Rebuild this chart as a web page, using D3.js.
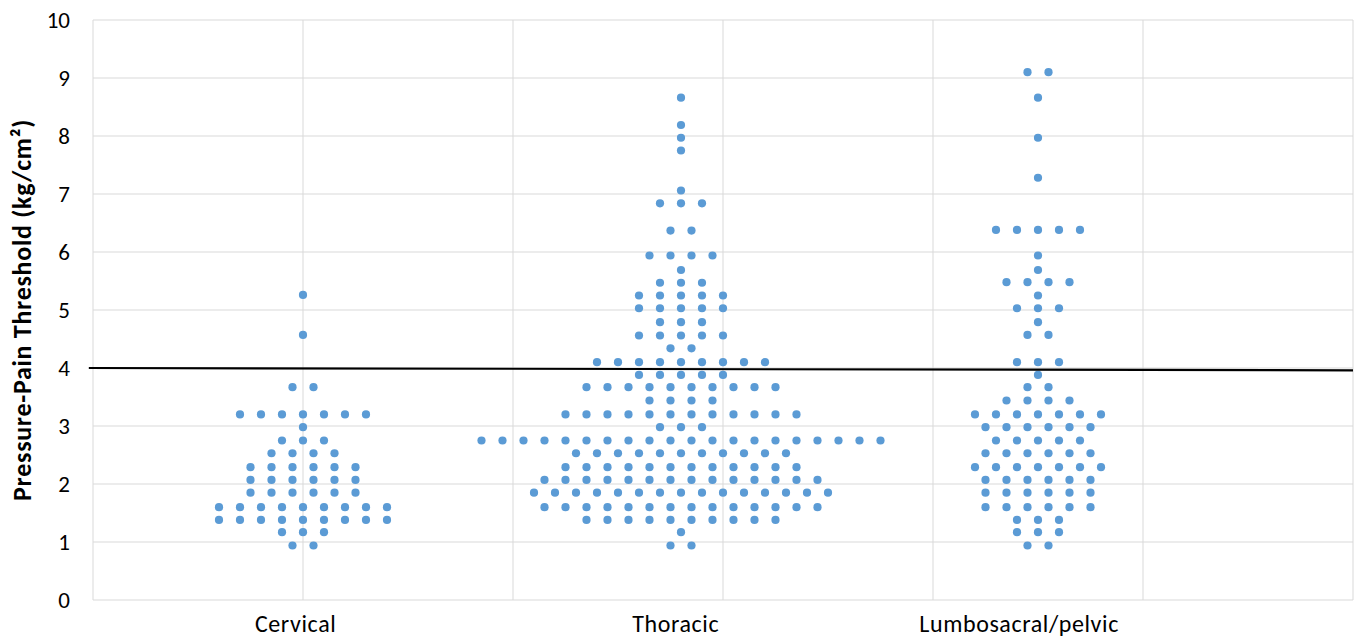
<!DOCTYPE html>
<html>
<head>
<meta charset="utf-8">
<script src="https://cdn.jsdelivr.net/npm/d3@7"></script>
<style>
  body { margin: 0; background: #fff; }
  text { font-family: Calibri, Carlito, Lato, sans-serif; fill: #000; }
</style>
</head>
<body>
<div id="chart"></div>
<script>
// categories and their centre positions on the hidden x value axis
const categories = ["Cervical", "Thoracic", "Lumbosacral/pelvic"];
const categoryCenters = [1, 2.8, 4.5];

// each row: [pressure-pain threshold, number of subjects at that value]
const cervicalRows = [
  [5.26, 1], [4.57, 1], [3.67, 2], [3.20, 7], [2.98, 1], [2.75, 3], [2.53, 4],
  [2.29, 6], [2.07, 6], [1.85, 6], [1.60, 9], [1.38, 9], [1.17, 3], [0.94, 2]
];
const thoracicRows = [
  [8.66, 1], [8.19, 1], [7.97, 1], [7.75, 1], [7.06, 1], [6.84, 3], [6.37, 2],
  [5.94, 4], [5.69, 1], [5.47, 3], [5.25, 5], [5.03, 5], [4.79, 3], [4.56, 5],
  [4.34, 2], [4.10, 9], [3.88, 5], [3.67, 10], [3.44, 4], [3.20, 12], [2.98, 3],
  [2.75, 20], [2.53, 11], [2.29, 12], [2.07, 14], [1.85, 15], [1.60, 14],
  [1.38, 10], [1.17, 1], [0.94, 2]
];
const lumbosacralRows = [
  [9.10, 2], [8.66, 1], [7.97, 1], [7.28, 1], [6.38, 5], [5.94, 1], [5.69, 1],
  [5.48, 4], [5.25, 1], [5.03, 3], [4.79, 1], [4.57, 2], [4.10, 3], [3.88, 1],
  [3.67, 2], [3.44, 4], [3.20, 7], [2.98, 6], [2.75, 5], [2.53, 6], [2.29, 7],
  [2.07, 6], [1.85, 6], [1.60, 6], [1.38, 3], [1.17, 3], [0.94, 2]
];
const seriesRows = [cervicalRows, thoracicRows, lumbosacralRows];

const yTicks = [0, 1, 2, 3, 4, 5, 6, 7, 8, 9, 10];
const xGrid = [0, 1, 2, 3, 4, 5, 6];
// threshold line (start, end) on y
const thresholdLine = [[-0.02, 4.0], [6, 3.96]];

const width = 1360, height = 639;
const margin = { top: 20, right: 7, bottom: 39, left: 93 };
const dotStep = 0.1;

const svg = d3.select("#chart").append("svg")
  .attr("width", width)
  .attr("height", height);

const x = d3.scaleLinear().domain([0, 6]).range([margin.left, width - margin.right]);
const y = d3.scaleLinear().domain([0, 10]).range([height - margin.bottom, margin.top]);

// gridlines
svg.append("g")
  .selectAll("line.h")
  .data(yTicks)
  .enter().append("line")
  .attr("x1", x(0)).attr("x2", x(6))
  .attr("y1", d => y(d)).attr("y2", d => y(d))
  .attr("stroke", "#d9d9d9").attr("stroke-width", 1);

svg.append("g")
  .selectAll("line.v")
  .data(xGrid)
  .enter().append("line")
  .attr("x1", d => x(d)).attr("x2", d => x(d))
  .attr("y1", y(0)).attr("y2", y(10))
  .attr("stroke", "#d9d9d9").attr("stroke-width", 1);

// y axis labels
const yAxis = d3.axisLeft(y).tickValues(yTicks).tickSize(0).tickPadding(23);
const yG = svg.append("g")
  .attr("transform", "translate(" + x(0) + ",0)")
  .call(yAxis);
yG.select(".domain").remove();
yG.selectAll("text")
  .style("font-family", "Calibri, Carlito, Lato, sans-serif")
  .style("font-size", "23px")
  .attr("fill", "#000");

svg.append("text")
  .attr("transform", "translate(31," + ((y(0) + y(10)) / 2) + ") rotate(-90)")
  .attr("text-anchor", "middle")
  .style("font-size", "26px")
  .style("font-weight", "bold")
  .style("letter-spacing", "0.7px")
  .text("Pressure-Pain Threshold (kg/cm²)");

// category labels (nudged like the original text boxes)
const labelNudge = [-0.035, -0.025, -0.09];
svg.append("g")
  .selectAll("text")
  .data(categories)
  .enter().append("text")
  .attr("x", (d, i) => x(categoryCenters[i] + labelNudge[i]))
  .attr("y", 632)
  .attr("text-anchor", "middle")
  .style("font-size", "24px")
  .style("letter-spacing", "0.6px")
  .text(d => d);

// dots: rows laid out symmetrically around each category centre
const points = [];
seriesRows.forEach(function (rows, ci) {
  rows.forEach(function (r) {
    const n = r[1];
    for (let i = 0; i < n; i++) {
      points.push({
        cx: categoryCenters[ci] + (i - (n - 1) / 2) * dotStep,
        v: r[0]
      });
    }
  });
});

svg.append("g")
  .selectAll("circle")
  .data(points)
  .enter().append("circle")
  .attr("cx", d => x(d.cx))
  .attr("cy", d => y(d.v))
  .attr("r", 4.1)
  .attr("fill", "#5b9bd5");

// threshold line
svg.append("line")
  .attr("x1", x(thresholdLine[0][0])).attr("y1", y(thresholdLine[0][1]))
  .attr("x2", x(thresholdLine[1][0])).attr("y2", y(thresholdLine[1][1]))
  .attr("stroke", "#000").attr("stroke-width", 2.2);
</script>
</body>
</html>
